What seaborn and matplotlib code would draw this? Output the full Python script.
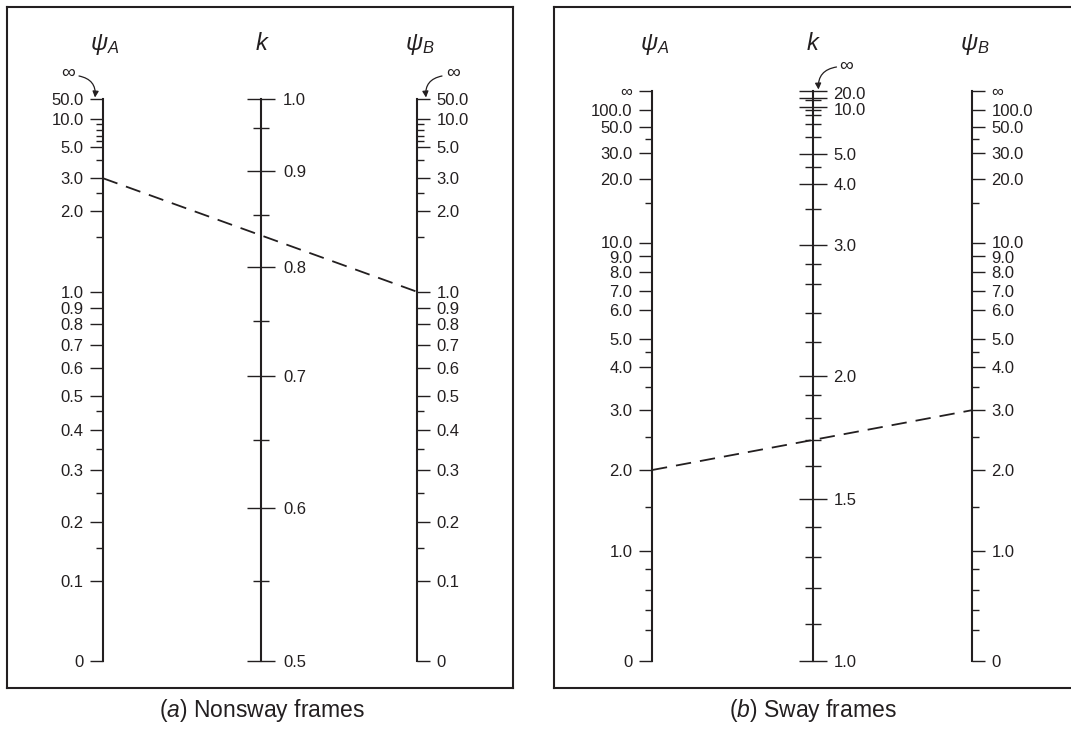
import numpy as np
import pandas as pd
import matplotlib
matplotlib.use('Agg')
import matplotlib.pyplot as plt
import seaborn as sns

INF = 1000.0  # stand-in value for the "∞" end of the sway scales

# (a) Nonsway frames -- psi scale (same for psi_A and psi_B), value -> relative height
psi_a_vals = [0, 0.1, 0.15, 0.2, 0.25, 0.3, 0.35, 0.4, 0.45, 0.5, 0.6, 0.7, 0.8, 0.9,
              1.0, 1.5, 2.0, 2.5, 3.0, 4.0, 5.0, 6.0, 7.0, 8.0, 9.0, 10.0, 50.0]
psi_a_height = [0, .142, .201, .247, .299, .340, .377, .411, .445, .472, .521, .562, .600, .628,
                .657, .754, .801, .833, .859, .892, .915, .925, .935, .945, .955, .964, 1.0]
psi_a_major = [0, 0.1, 0.2, 0.3, 0.4, 0.5, 0.6, 0.7, 0.8, 0.9, 1.0, 2.0, 3.0, 5.0, 10.0, 50.0]
psi_a_minor = [0.15, 0.25, 0.35, 0.45, 1.5, 2.5, 4.0, 6.0, 7.0, 8.0, 9.0]

# (a) k scale
k_a_vals = [0.5, 0.55, 0.6, 0.65, 0.7, 0.75, 0.8, 0.85, 0.9, 0.95, 1.0]
k_a_height = [0, .142, .272, .393, .507, .605, .701, .794, .872, .948, 1.0]
k_a_major = [0.5, 0.6, 0.7, 0.8, 0.9, 1.0]
k_a_minor = [0.55, 0.65, 0.75, 0.85, 0.95]

line_a = [3.0, 1.0]  # psi_A, psi_B of the dashed example line

# (b) Sway frames -- psi scale
psi_b_vals = [0, 0.2, 0.4, 0.6, 0.8, 1.0, 1.5, 2.0, 2.5, 3.0, 3.5, 4.0, 4.5, 5.0, 6.0, 7.0,
              8.0, 9.0, 10.0, 15.0, 20.0, 30.0, 40.0, 50.0, 100.0, INF]
psi_b_height = [0, .054, .090, .125, .161, .193, .270, .335, .393, .440, .481, .516, .542, .565,
                .616, .649, .683, .711, .733, .804, .846, .891, .916, .937, .967, 1.0]
psi_b_major = [0, 1.0, 2.0, 3.0, 4.0, 5.0, 6.0, 7.0, 8.0, 9.0, 10.0, 20.0, 30.0, 50.0, 100.0, INF]
psi_b_minor = [0.2, 0.4, 0.6, 0.8, 1.5, 2.5, 3.5, 4.5, 15.0, 40.0]

# (b) k scale
k_b_vals = [1.0, 1.1, 1.2, 1.3, 1.4, 1.5, 1.6, 1.7, 1.8, 1.9, 2.0, 2.2, 2.4, 2.6, 2.8, 3.0,
            3.5, 4.0, 4.5, 5.0, 6.0, 7.0, 8.0, 9.0, 10.0, 15.0, 20.0, INF]
k_b_height = [0, .065, .128, .182, .235, .284, .342, .388, .426, .467, .500, .560, .611, .661,
              .696, .730, .793, .837, .867, .889, .919, .942, .958, .967, .972, .984, .988, 1.0]
k_b_major = [1.0, 1.5, 2.0, 3.0, 4.0, 5.0, 10.0, 20.0, INF]
k_b_minor = [1.1, 1.2, 1.3, 1.4, 1.6, 1.7, 1.8, 1.9, 2.2, 2.4, 2.6, 2.8, 3.5, 4.5,
             6.0, 7.0, 8.0, 9.0, 15.0]

line_b = [2.0, 3.0]

sns.set_theme(style='white')
plt.rcParams['font.family'] = ['Liberation Sans', 'DejaVu Sans']
plt.rcParams['mathtext.fontset'] = 'custom'
plt.rcParams['mathtext.rm'] = 'Liberation Sans'
plt.rcParams['mathtext.it'] = 'Liberation Sans:italic'
INK = '#231f20'
LABEL_SIZE = 12

W, H = 1071, 735
fig = plt.figure(figsize=(W / 100, H / 100), dpi=100)


def px_rect(x0, y0, x1, y1):
    return [x0 / W, 1 - y1 / H, (x1 - x0) / W, (y1 - y0) / H]


def make_scale(vals, heights):
    v = np.asarray(vals, float)
    h = np.asarray(heights, float)
    return (lambda x: np.interp(x, v, h)), (lambda y: np.interp(y, h, v))


def fmt(v, inf_label='∞'):
    if v == INF:
        return inf_label
    if v == 0:
        return '0'
    return f'{v:.1f}'


def set_scale(ax, vals, heights):
    ax.set_yscale('function', functions=make_scale(vals, heights))
    ax.set_ylim(vals[0], vals[-1])
    ax.set_xticks([])
    ax.patch.set_visible(False)
    for s in ax.spines.values():
        s.set_visible(False)


def nudged_labels(ax, nudge, x, dx, ha, inf_label='∞'):
    # crowded labels are shifted a touch up/down so they do not collide
    for v, dy in nudge.items():
        ax.annotate(fmt(v, inf_label), xy=(x, v), xycoords=ax.get_yaxis_transform(),
                    xytext=(dx, dy), textcoords='offset points', ha=ha,
                    va='center_baseline', fontsize=LABEL_SIZE, color=INK)


def psi_ticks(ax, side, major, minor, nudge):
    ax.set_yticks(major, labels=['' if v in nudge else fmt(v) for v in major])
    ax.set_yticks(minor, minor=True)
    ax.spines[side].set_visible(True)
    ax.spines[side].set_linewidth(1.5)
    ax.spines[side].set_color(INK)
    left = side == 'left'
    ax.tick_params(axis='y', which='both', direction='out', color=INK, width=1.0,
                   left=left, right=not left, labelleft=left, labelright=not left)
    ax.tick_params(axis='y', which='major', length=9.5, pad=4.5, labelsize=LABEL_SIZE,
                   labelcolor=INK)
    ax.tick_params(axis='y', which='minor', length=4.8)
    if left:
        nudged_labels(ax, nudge, 0, -14, 'right')
    else:
        nudged_labels(ax, nudge, 1, 14, 'left')


def draw_panel(frame, col_a, col_k, col_b, top, bottom,
               psi_vals, psi_h, psi_major, psi_minor,
               k_vals, k_h, k_major, k_minor, line, k_pad,
               psi_nudge=None, k_nudge=None):
    psi_nudge = psi_nudge or {}
    k_nudge = k_nudge or {}
    fr = fig.add_axes(px_rect(*frame))
    fr.set_xticks([])
    fr.set_yticks([])
    fr.patch.set_visible(False)
    for s in fr.spines.values():
        s.set_color(INK)
        s.set_linewidth(1.5)

    # psi_A (left spine) and the dashed line
    ax = fig.add_axes(px_rect(col_a, top, col_b, bottom))
    set_scale(ax, psi_vals, psi_h)
    df = pd.DataFrame({'column': [0.0, 1.0], 'psi': line})
    sns.lineplot(data=df, x='column', y='psi', ax=ax, color=INK, lw=1.3,
                 linestyle=(0, (8.5, 5)), clip_on=False)
    ax.set(xlabel='', ylabel='')
    ax.set_xlim(0, 1)
    ax.set_ylim(psi_vals[0], psi_vals[-1])
    psi_ticks(ax, 'left', psi_major, psi_minor, psi_nudge)

    # psi_B (right spine)
    axb = ax.twinx()
    set_scale(axb, psi_vals, psi_h)
    psi_ticks(axb, 'right', psi_major, psi_minor, psi_nudge)

    # k scale
    axk = fig.add_axes(px_rect(col_k - 0.05, top, col_k + 0.05, bottom))
    set_scale(axk, k_vals, k_h)
    axk.spines['right'].set_visible(True)
    axk.spines['right'].set_linewidth(1.5)
    axk.spines['right'].set_color(INK)
    axk.yaxis.tick_right()
    axk.set_yticks(k_major, labels=['' if v in k_nudge else fmt(v, '') for v in k_major])
    axk.set_yticks(k_minor, minor=True)
    axk.tick_params(axis='y', which='both', direction='inout', color=INK, width=1.0,
                    left=False, right=True, labelleft=False, labelright=True)
    axk.tick_params(axis='y', which='major', length=19.5, pad=k_pad, labelsize=LABEL_SIZE,
                    labelcolor=INK)
    axk.tick_params(axis='y', which='minor', length=11)
    nudged_labels(axk, k_nudge, 1, 19.5 / 2 + k_pad, 'left', '')


def heading(x, text):
    fig.text(x / W, 1 - 50 / H, text, ha='center', va='baseline', fontsize=17, color=INK)


def infinity(label_xy, start_xy, tip_xy, rad):
    fig.text(label_xy[0] / W, 1 - label_xy[1] / H, '∞', ha='center', va='center',
             fontsize=14, color=INK)
    fig.add_artist(matplotlib.patches.FancyArrowPatch(
        (start_xy[0], H - start_xy[1]), (tip_xy[0], H - tip_xy[1]),
        transform=None, arrowstyle='-|>', mutation_scale=9, lw=0.9, color=INK,
        connectionstyle=f'arc3,rad={rad}', shrinkA=0, shrinkB=0))


# (a) Nonsway frames
draw_panel((7, 7, 513, 688), 103, 261, 417, 99, 661,
           psi_a_vals, psi_a_height, psi_a_major, psi_a_minor,
           k_a_vals, k_a_height, k_a_major, k_a_minor, line_a, k_pad=6)
heading(105, r'$\psi_A$')
heading(262, r'$k$')
heading(420, r'$\psi_B$')
infinity((68.5, 73), (79, 76), (95, 97.5), -0.45)
infinity((453.5, 73), (442, 76), (426, 97.5), 0.45)
fig.text(262 / W, 1 - 711 / H, r'($a$) Nonsway frames', ha='center', va='center',
         fontsize=16.5, color=INK)

# (b) Sway frames
draw_panel((554, 7, 1080, 688), 652, 813, 972, 91, 661,
           psi_b_vals, psi_b_height, psi_b_major, psi_b_minor,
           k_b_vals, k_b_height, k_b_major, k_b_minor, line_b, k_pad=5,
           psi_nudge={10.0: 1.2, 9.0: -1.2}, k_nudge={20.0: 3.4, 10.0: -1.6})
heading(655, r'$\psi_A$')
heading(813, r'$k$')
heading(975, r'$\psi_B$')
infinity((846.5, 66), (836.5, 67), (818.5, 89.5), 0.45)
fig.text(813 / W, 1 - 711 / H, r'($b$) Sway frames', ha='center', va='center',
         fontsize=16.5, color=INK)

fig.savefig('out.png', dpi=100)
